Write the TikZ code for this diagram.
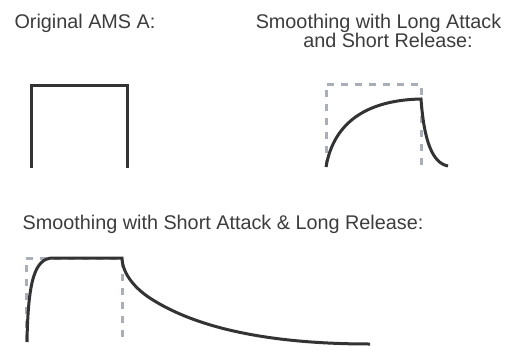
\documentclass[tikz,border=0pt]{standalone}
\usepackage{fontspec}
\setmainfont{Liberation Sans}
\definecolor{txtgray}{HTML}{3C3C3C}
\definecolor{curvegray}{HTML}{333333}
\definecolor{dashgray}{HTML}{A9AFB8}
\begin{document}
\begin{tikzpicture}[x=1pt,y=-1pt,
  lbl/.style={anchor=base,inner sep=0pt,text=txtgray,font=\fontsize{19.8}{21}\selectfont},
  env/.style={draw=curvegray,line width=3pt,line join=miter},
  guide/.style={draw=dashgray,line width=3pt,dash pattern=on 7pt off 7pt}]
\useasboundingbox (0,0) rectangle (513,345);
% titles
\node[lbl] (t1) at (85,28.5) {Original AMS A:};
\node[lbl] (t2a) at (378.5,28.5) {Smoothing with Long Attack};
\node[lbl] (t2b) at (388,47.5) {and Short Release:};
\node[lbl] (t3) at (223,229) {Smoothing with Short Attack \& Long Release:};
% original
\draw[env] (31,168) -- (31,85) -- (127,85) -- (127,168);
% long attack, short release
\draw[guide] (326,167) -- (326,84) -- (421,84) -- (421,167);
\draw[env] (326,167) .. controls (334,120) and (370,100) .. (421,99)
  .. controls (424,140) and (432,163) .. (448,166);
% short attack, long release
\draw[guide] (26,342) -- (26,258) -- (122,258) -- (122,342);
\draw[env] (27,342) .. controls (28,280) and (35,258) .. (53,258) -- (122,258)
  .. controls (122.5,275) and (137,290.4) .. (153,300)
  .. controls (193,325) and (260,344) .. (370,344);
\end{tikzpicture}
\end{document}
